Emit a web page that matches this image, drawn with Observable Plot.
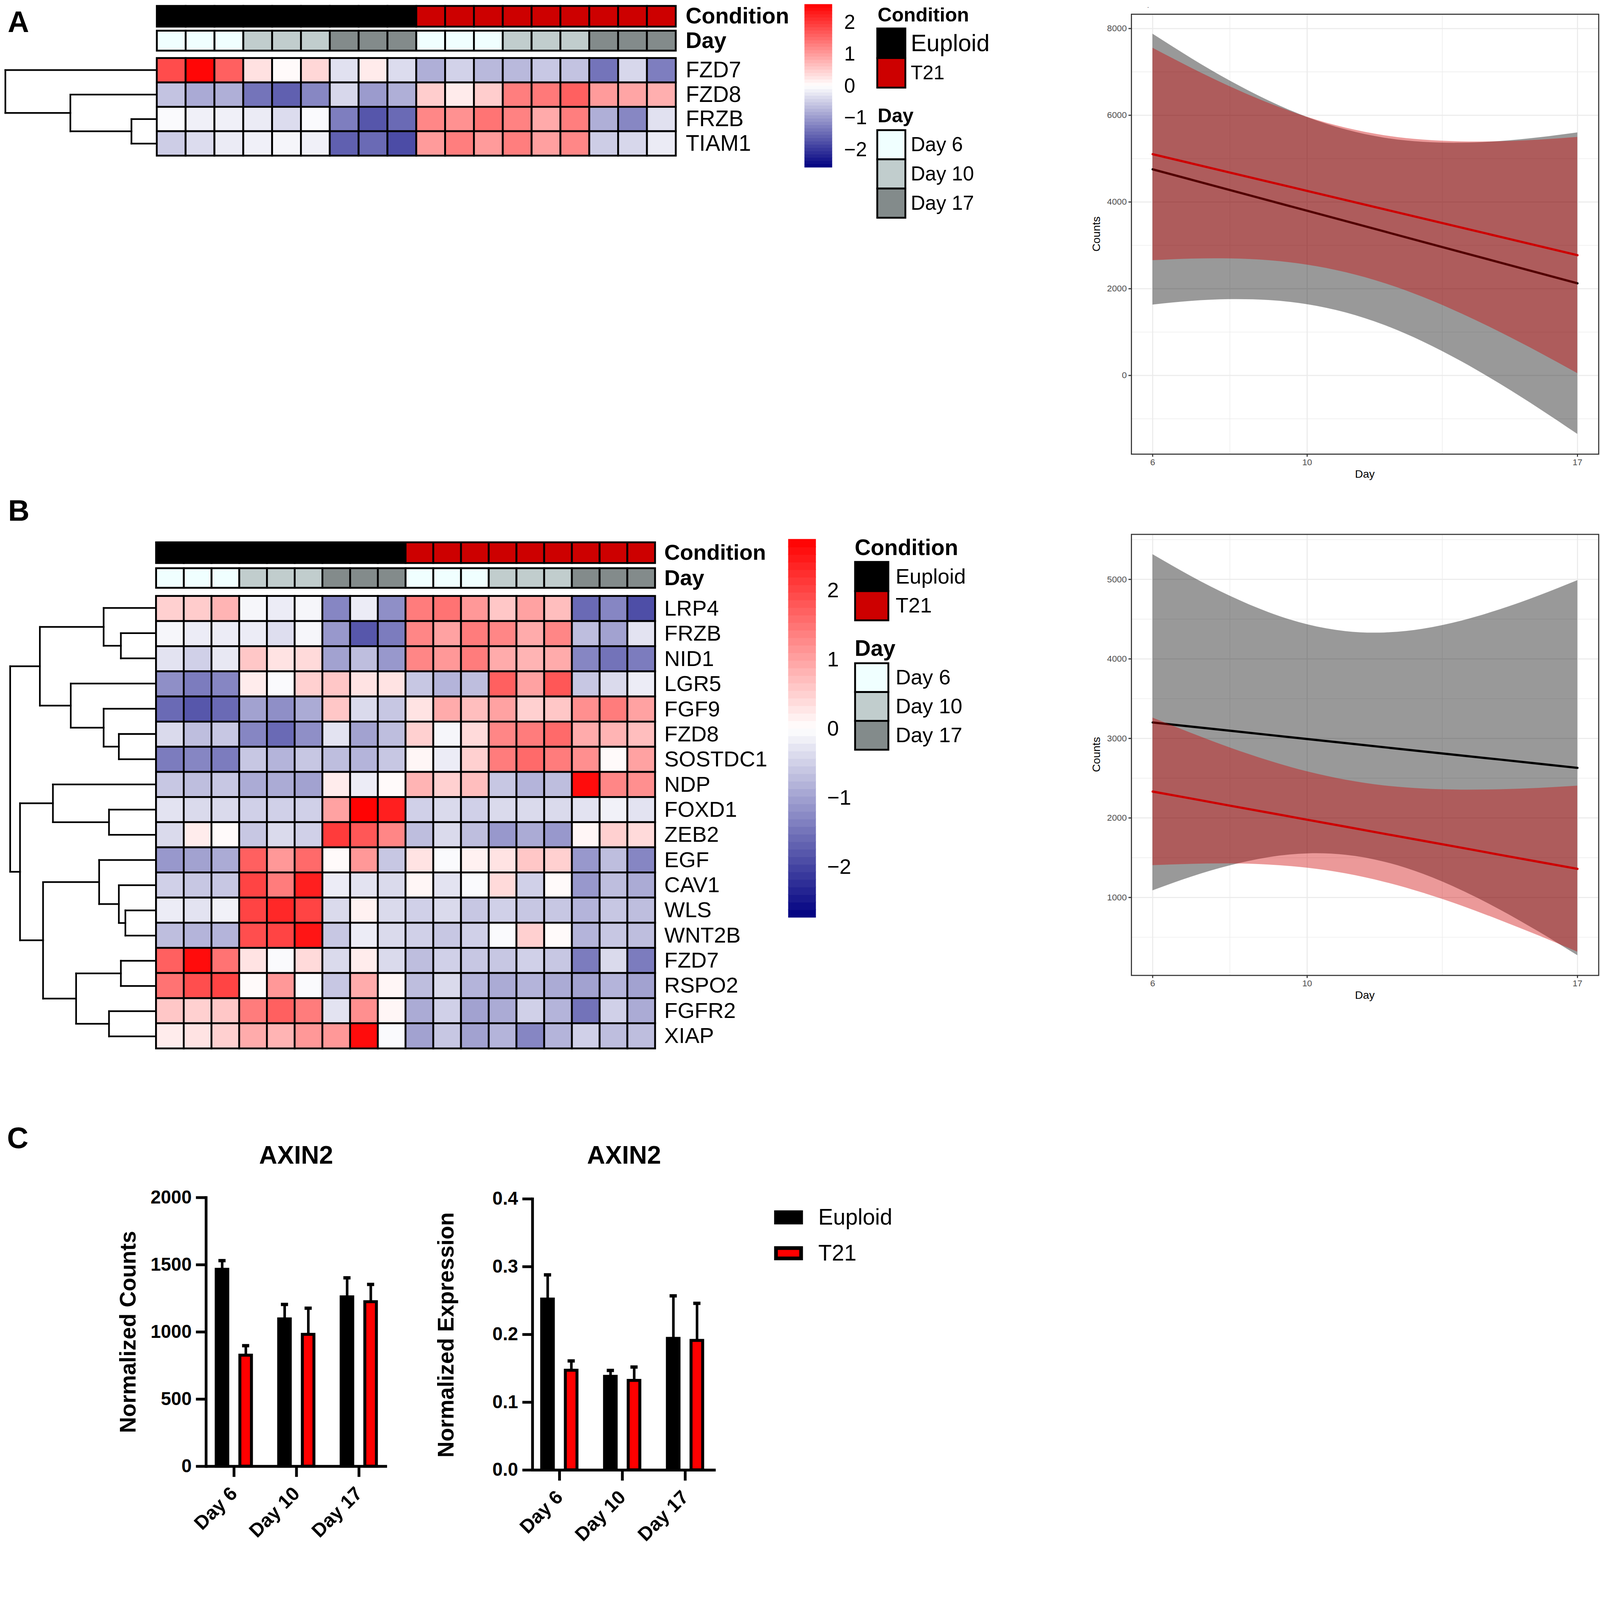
<!DOCTYPE html>
<html><head><meta charset="utf-8">
<script src="https://cdn.jsdelivr.net/npm/d3@7"></script>
<script src="https://cdn.jsdelivr.net/npm/@observablehq/plot@0.6"></script>
<style>
html,body{margin:0;padding:0;background:#fff;overflow:hidden;}
#fig{position:absolute;left:0;top:0;width:4328px;height:4184px;overflow:hidden;background:#fff;transform-origin:0 0;}
</style></head><body><div id="fig"></div>
<script>
// ---------------- DATA ----------------
const samples = ["Eu_D6_1","Eu_D6_2","Eu_D6_3","Eu_D10_1","Eu_D10_2","Eu_D10_3","Eu_D17_1","Eu_D17_2","Eu_D17_3",
                 "T21_D6_1","T21_D6_2","T21_D6_3","T21_D10_1","T21_D10_2","T21_D10_3","T21_D17_1","T21_D17_2","T21_D17_3"];
const sampleCondition = ["Euploid","Euploid","Euploid","Euploid","Euploid","Euploid","Euploid","Euploid","Euploid",
                         "T21","T21","T21","T21","T21","T21","T21","T21","T21"];
const sampleDay = ["Day 6","Day 6","Day 6","Day 10","Day 10","Day 10","Day 17","Day 17","Day 17",
                   "Day 6","Day 6","Day 6","Day 10","Day 10","Day 10","Day 17","Day 17","Day 17"];
const conditions = ["Euploid","T21"];
const days = ["Day 6","Day 10","Day 17"];

// Panel A heatmap (z-scores)
const genesA = ["FZD7","FZD8","FRZB","TIAM1"];
const valuesA = [
  [1.8, 2.5, 1.6, 0.3, 0.05, 0.4, -0.3, 0.2, -0.35, -0.8, -0.45, -0.7, -0.7, -0.55, -0.6, -1.4, -0.4, -1.3],
  [-0.6, -0.85, -0.8, -1.4, -1.6, -1.2, -0.4, -1.0, -0.8, 0.5, 0.2, 0.5, 1.3, 1.35, 1.6, 1.0, 0.9, 0.8],
  [-0.05, -0.15, -0.15, -0.2, -0.35, -0.05, -1.3, -1.7, -1.5, 1.2, 1.1, 1.4, 1.25, 0.85, 1.3, -0.8, -1.2, -0.3],
  [-0.5, -0.35, -0.2, -0.15, -0.1, -0.15, -1.6, -1.5, -1.8, 1.0, 1.3, 1.0, 1.3, 0.95, 1.2, -0.5, -0.4, -0.2]
];
const mergesA = [["FRZB","TIAM1",0.162],["FZD8","#0",0.568],["FZD7","#1",1]];
const legendMaxA = 2.56;

// Panel B heatmap (z-scores)
const genesB = ["LRP4","FRZB","NID1","LGR5","FGF9","FZD8","SOSTDC1","NDP","FOXD1","ZEB2","EGF","CAV1","WLS","WNT2B","FZD7","RSPO2","FGFR2","XIAP"];
const valuesB = [
  [0.5, 0.55, 0.8, -0.1, -0.2, -0.1, -1.3, -0.2, -1.2, 1.4, 1.5, 1.1, 0.6, 1.0, 0.7, -1.6, -1.3, -1.9],
  [-0.1, -0.2, -0.2, -0.2, -0.35, -0.1, -1.1, -1.8, -1.4, 1.3, 1.0, 1.4, 1.3, 0.9, 1.3, -0.7, -1.0, -0.3],
  [-0.3, -0.5, -0.25, 0.6, 0.3, 0.4, -1.0, -0.7, -1.1, 1.3, 1.1, 1.4, 0.9, 0.8, 0.9, -1.3, -1.5, -1.4],
  [-1.2, -1.4, -1.3, 0.2, -0.05, 0.5, 0.6, 0.3, 0.3, -0.6, -0.8, -0.7, 1.7, 1.0, 1.8, -0.6, -0.4, -0.2],
  [-1.6, -1.8, -1.6, -1.0, -1.2, -0.9, 0.6, -0.4, -0.6, 0.3, 0.9, 0.7, 1.0, 0.5, 0.6, 1.2, 1.4, 1.0],
  [-0.4, -0.7, -0.6, -1.3, -1.6, -1.2, -0.3, -1.0, -0.7, 0.5, -0.1, 0.4, 1.3, 1.4, 1.6, 0.9, 0.8, 0.7],
  [-1.4, -1.3, -1.4, -0.6, -0.8, -0.6, -0.7, -0.8, -0.6, 0.1, -0.2, 0.5, 1.4, 1.6, 1.4, 1.2, 0.05, 1.0],
  [-0.6, -0.7, -0.6, -0.9, -0.9, -1.0, 0.2, -0.2, 0.05, 0.8, 0.5, 0.7, -0.6, -0.8, -0.7, 2.6, 1.3, 1.2],
  [-0.3, -0.4, -0.4, -0.5, -0.5, -0.5, 1.0, 2.7, 2.4, -0.5, -0.4, -0.5, -0.4, -0.4, -0.4, -0.3, -0.15, -0.3],
  [-0.4, 0.2, 0.05, -0.6, -0.4, -0.5, 2.1, 1.8, 1.3, -0.7, -0.4, -0.7, -1.1, -0.9, -1.1, 0.1, 0.5, 0.4],
  [-1.1, -1.0, -0.9, 1.7, 1.1, 1.6, 0.05, 1.1, -0.6, 0.3, -0.05, 0.15, 0.3, 0.6, 0.5, -1.1, -0.7, -1.3],
  [-0.5, -0.6, -0.6, 2.0, 1.4, 2.4, -0.2, -0.3, -0.4, 0.1, -0.3, -0.05, 0.4, -0.5, 0.05, -1.1, -0.7, -0.9],
  [-0.2, -0.3, -0.15, 2.0, 2.3, 2.0, -0.4, 0.15, -0.4, -0.5, -0.4, -0.6, -0.5, -0.6, -0.6, -0.8, -0.6, -0.7],
  [-0.7, -0.8, -0.8, 1.9, 2.0, 2.5, -0.6, -0.2, -0.4, -0.5, -0.6, -0.5, -0.05, 0.5, 0.05, -0.8, -0.6, -0.7],
  [1.7, 2.6, 1.5, 0.3, -0.05, 0.4, -0.4, 0.2, -0.4, -0.7, -0.5, -0.6, -0.6, -0.5, -0.6, -1.4, -0.4, -1.4],
  [1.5, 1.9, 2.0, 0.05, 1.1, -0.05, -0.6, 0.9, 0.1, -0.7, -0.4, -0.8, -0.9, -0.8, -0.9, -1.0, -0.8, -1.0],
  [0.6, 0.5, 0.6, 1.4, 1.7, 1.4, -0.3, 1.2, 0.1, -0.9, -0.5, -1.0, -0.9, -0.5, -0.8, -1.5, -0.5, -0.9],
  [0.2, 0.3, 0.5, 0.9, 0.8, 1.1, 1.1, 2.6, -0.05, -1.0, -0.6, -1.0, -0.8, -1.3, -0.8, -0.5, -0.7, -0.7]
];
const mergesB = [
  ["FRZB","NID1",0.236],["LRP4","#0",0.355],["FZD8","SOSTDC1",0.25],["FGF9","#2",0.355],["LGR5","#3",0.582],
  ["#1","#4",0.795],["FOXD1","ZEB2",0.318],["NDP","#6",0.705],["WLS","WNT2B",0.205],["CAV1","#8",0.25],
  ["EGF","#9",0.386],["FZD7","RSPO2",0.236],["FGFR2","XIAP",0.318],["#11","#12",0.545],["#10","#13",0.773],
  ["#7","#14",0.932],["#5","#15",1]
];
const legendMaxB = 2.73;

// Smooth (linear fit + CI) panels, read at each day
const smoothDays = [6,7,8,9,10,11,12,13,14,15,16,17];
const aEuploidFit = [4754,4515,4276,4037,3798,3559,3320,3081,2842,2603,2364,2125];
const aEuploidHi  = [7877,7315,6797,6339,5957,5669,5479,5383,5363,5403,5487,5601];
const aEuploidLo  = [1631,1715,1755,1735,1639,1449,1161,779,321,-197,-759,-1351];
const aT21Fit = [5103,4891,4679,4468,4256,4044,3832,3621,3409,3197,2985,2773];
const aT21Hi  = [7552,7091,6663,6282,5960,5710,5536,5435,5393,5397,5434,5497];
const aT21Lo  = [2654,2691,2695,2654,2552,2378,2128,1807,1425,997,536,49];
const bEuploidFit = [3201,3149,3097,3045,2993,2941,2889,2837,2785,2734,2682,2630];
const bEuploidHi  = [5314,5038,4792,4586,4434,4347,4330,4378,4480,4623,4795,4988];
const bEuploidLo  = [1088,1260,1402,1504,1552,1535,1448,1296,1090,845,569,272];
const bT21Fit = [2332,2244,2155,2067,1978,1890,1801,1713,1625,1536,1448,1360];
const bT21Hi  = [3260,3067,2884,2722,2584,2479,2407,2368,2354,2359,2376,2404];
const bT21Lo  = [1404,1421,1426,1412,1372,1301,1195,1058,896,713,520,316];
const smoothXTicks = [6,10,17];
const smoothXMinor = [8,13.5];
const aYTicks = [0,2000,4000,6000,8000];
const aYMinor = [-1000,1000,3000,5000,7000];
const bYTicks = [1000,2000,3000,4000,5000];
const bYMinor = [500,1500,2500,3500,4500,5500];

// Panel C bars (mean, SEM)
const barDays = ["Day 6","Day 10","Day 17"];
const countsEuploid = [1465,1096,1260];
const countsEuploidSem = [66,109,143];
const countsT21 = [826,981,1224];
const countsT21Sem = [72,196,130];
const exprEuploid = [0.252,0.138,0.194];
const exprEuploidSem = [0.036,0.009,0.063];
const exprT21 = [0.147,0.132,0.191];
const exprT21Sem = [0.014,0.020,0.055];
const countsTicks = [0,500,1000,1500,2000];
const exprTicks = [0,0.1,0.2,0.3,0.4];

// ---------------- HELPERS ----------------
const FONT = "'Liberation Sans', Arial, Helvetica, sans-serif";
const fig = document.getElementById("fig");
function fitFigure() {
  const s = Math.min(document.documentElement.clientWidth / 4328, document.documentElement.clientHeight / 4184);
  fig.style.transform = "scale(" + s + ")";
}
fitFigure();
window.addEventListener("resize", fitFigure);
const plotStyle = {background: "transparent", overflow: "visible", fontFamily: FONT, color: "#000"};
function place(node, left, top) {
  node.style.position = "absolute";
  node.style.left = left + "px";
  node.style.top = top + "px";
  node.style.maxWidth = "none";
  fig.appendChild(node);
}
const heatColor = m => ({type: "linear", domain: [-m, 0, m], range: ["#000080", "#FFFFFF", "#FF0000"]});
const condColor = {type: "ordinal", domain: conditions, range: ["#000000", "#CD0000"]};
const dayColor = {type: "ordinal", domain: days, range: ["#F0FFFF", "#C1CDCD", "#838B8B"]};

function gridPlot({rows, cells, color, cellW, cellH, fontSize, gap, bold}) {
  const W = cellW * samples.length, H = cellH * rows.length;
  return Plot.plot({
    width: W + 508, height: H + 8,
    marginLeft: 4, marginRight: 504, marginTop: 4, marginBottom: 4,
    x: {domain: samples, padding: 0, axis: null},
    y: {domain: rows, padding: 0},
    color, style: plotStyle,
    marks: [
      Plot.cell(cells, {x: "sample", y: "row", fill: "value", stroke: "#000", strokeWidth: 5}),
      Plot.axisY({anchor: "right", tickSize: 0, tickPadding: gap, fontSize, fontWeight: bold ? "bold" : "normal", label: null, textStroke: "none"})
    ]
  });
}
function heatmap({genes, values, m, left, top, condTop, condH, dayTop, dayH, cellW, cellH, fontSize, gap}) {
  const cells = genes.flatMap((g, i) => samples.map((s, j) => ({row: g, sample: s, value: values[i][j]})));
  place(gridPlot({rows: genes, cells, color: heatColor(m), cellW, cellH, fontSize, gap}), left - 4, top - 4);
  const cc = samples.map((s, j) => ({row: "Condition", sample: s, value: sampleCondition[j]}));
  place(gridPlot({rows: ["Condition"], cells: cc, color: condColor, cellW, cellH: condH, fontSize, gap, bold: true}), left - 4, condTop - 4);
  const dc = samples.map((s, j) => ({row: "Day", sample: s, value: sampleDay[j]}));
  place(gridPlot({rows: ["Day"], cells: dc, color: dayColor, cellW, cellH: dayH, fontSize, gap, bold: true}), left - 4, dayTop - 4);
}
function dendrogram({leaves, merges, rootX, leafX, top, cellH}) {
  const pos = new Map(leaves.map((g, i) => [g, {y: i, h: 0}]));
  const segs = [];
  merges.forEach(([a, b, h], k) => {
    const A = pos.get(a), B = pos.get(b);
    segs.push({x1: A.h, y1: A.y, x2: h, y2: A.y});
    segs.push({x1: B.h, y1: B.y, x2: h, y2: B.y});
    segs.push({x1: h, y1: A.y, x2: h, y2: B.y});
    pos.set("#" + k, {y: (A.y + B.y) / 2, h});
  });
  const n = leaves.length;
  const svg = Plot.plot({
    width: leafX - rootX + 8, height: n * cellH + 8,
    marginLeft: 4, marginRight: 4, marginTop: 4, marginBottom: 4,
    x: {domain: [1, 0], axis: null}, y: {domain: [n - 0.5, -0.5], axis: null},
    style: plotStyle,
    marks: [Plot.link(segs, {x1: "x1", y1: "y1", x2: "x2", y2: "y2", stroke: "#000", strokeWidth: 4.5, strokeLinecap: "square"})]
  });
  place(svg, rootX - 4, top - 4);
}
function colorbar({m, left, top, w, h, fontSize, gap}) {
  const N = 50;
  const bands = d3.range(N).map(i => ({lo: -m + 2 * m * i / N, hi: -m + 2 * m * (i + 1) / N}));
  const svg = Plot.plot({
    width: w + 300, height: h, marginLeft: 0, marginRight: 300, marginTop: 0, marginBottom: 0,
    x: {domain: [0, 1], axis: null}, y: {domain: [-m, m]},
    color: heatColor(m), style: plotStyle,
    marks: [
      Plot.rect(bands, {x1: () => 0, x2: () => 1, y1: "lo", y2: d => d.hi + m * 0.004, fill: d => (d.lo + d.hi) / 2}),
      Plot.axisY({anchor: "right", ticks: [-2, -1, 0, 1, 2], tickFormat: d3.format("d"), tickSize: 0, tickPadding: gap, fontSize, label: null, textStroke: "none"})
    ]
  });
  place(svg, left, top);
}
function annLegend({keys, range, left, top, swW, swH, fontSizes, gap, sw}) {
  const svg = Plot.plot({
    width: swW + 508, height: swH * keys.length + 8,
    marginLeft: 4, marginRight: 504, marginTop: 4, marginBottom: 4,
    x: {type: "band", domain: ["k"], padding: 0, axis: null},
    y: {type: "band", domain: keys, padding: 0, axis: null},
    color: {type: "ordinal", domain: keys, range}, style: plotStyle,
    marks: [
      Plot.cell(keys, {x: () => "k", y: d => d, fill: d => d, stroke: "#000", strokeWidth: sw || 5}),
      Plot.text(keys, {x: () => "k", y: d => d, text: d => d, textAnchor: "start", dx: swW / 2 + gap, fontSize: d => fontSizes[keys.indexOf(d)], fill: "#000"})
    ]
  });
  place(svg, left - 4, top - 4);
}
function smoothPlot({top, mT, mB, yDomain, yTicks, yMinor, euploid, t21}) {
  const rows = (fit, lo, hi) => smoothDays.map((d, i) => ({day: d, fit: fit[i], lo: lo[i], hi: hi[i]}));
  const E = rows(...euploid), T = rows(...t21);
  const gridMinor = {stroke: "#EBEBEB", strokeOpacity: 1, strokeWidth: 1.5};
  const gridMajor = {stroke: "#EBEBEB", strokeOpacity: 1, strokeWidth: 2.9};
  const svg = Plot.plot({
    width: 1408, height: 1320, marginLeft: 140, marginRight: 4, marginTop: mT, marginBottom: mB,
    x: {domain: [5.45, 17.55]}, y: {domain: yDomain},
    style: plotStyle,
    marks: [
      Plot.gridX(smoothXMinor, gridMinor),
      Plot.gridY(yMinor, gridMinor),
      Plot.gridX(smoothXTicks, gridMajor),
      Plot.gridY(yTicks, gridMajor),
      Plot.areaY(E, {x: "day", y1: "lo", y2: "hi", fill: "#000000", fillOpacity: 0.4, curve: "natural"}),
      Plot.line(E, {x: "day", y: "fit", stroke: "#000000", strokeWidth: 6}),
      Plot.areaY(T, {x: "day", y1: "lo", y2: "hi", fill: "#CD0000", fillOpacity: 0.4, curve: "natural"}),
      Plot.line(T, {x: "day", y: "fit", stroke: "#CD0000", strokeWidth: 6}),
      Plot.frame({stroke: "#333333", strokeWidth: 2.9}),
      Plot.axisX({ticks: smoothXTicks, tickSize: 7.5, tickPadding: 5, fontSize: 24, color: "#4D4D4D", stroke: "#333333", strokeWidth: 2.9, label: null, tickFormat: d => String(d), textStroke: "none"}),
      Plot.axisY({ticks: yTicks, tickSize: 7.5, tickPadding: 5, fontSize: 24, color: "#4D4D4D", stroke: "#333333", strokeWidth: 2.9, label: null, tickFormat: d => String(d), textStroke: "none"})
    ]
  });
  place(svg, 2920, top);
}
function barPlot({left, width, mL, mR, mT, mB, xRange, yDomain, yTicks, fmt, eMean, eSem, tMean, tSem}) {
  const E = barDays.map((d, i) => ({day: d, cond: "Euploid", v: eMean[i], top: eMean[i] + eSem[i]}));
  const T = barDays.map((d, i) => ({day: d, cond: "T21", v: tMean[i], top: tMean[i] + tSem[i]}));
  const h = (xRange[1] - xRange[0]) / barDays.length / 2;
  const svg = Plot.plot({
    width, height: 1034, marginLeft: mL, marginRight: mR, marginTop: mT, marginBottom: mB,
    x: {type: "band", domain: barDays, range: xRange, padding: 0},
    y: {domain: yDomain},
    color: {type: "ordinal", domain: conditions, range: ["#000000", "#FF0000"]},
    style: {...plotStyle, fontWeight: "bold"},
    marks: [
      Plot.barY(E, {x: "day", y: "v", fill: "cond", stroke: "#000", strokeWidth: 8, insetLeft: h - 48, insetRight: h + 16}),
      Plot.barY(T, {x: "day", y: "v", fill: "cond", stroke: "#000", strokeWidth: 8, insetLeft: h + 16, insetRight: h - 48}),
      Plot.ruleX(E, {x: "day", y1: "v", y2: "top", dx: -32, strokeWidth: 7}),
      Plot.ruleX(T, {x: "day", y1: "v", y2: "top", dx: 32, strokeWidth: 7}),
      Plot.tickY(E, {x: "day", y: "top", insetLeft: h - 42, insetRight: h + 22, strokeWidth: 9}),
      Plot.tickY(T, {x: "day", y: "top", insetLeft: h + 22, insetRight: h - 42, strokeWidth: 9}),
      Plot.ruleY([0], {strokeWidth: 7.5}),
      Plot.frame({anchor: "left", strokeWidth: 7.5}),
      Plot.axisY({ticks: yTicks, tickSize: 27, tickPadding: 12, strokeWidth: 7.5, fontSize: 50, fontWeight: "bold", label: null, tickFormat: fmt, textStroke: "none"}),
      Plot.axisX({tickSize: 29, strokeWidth: 7.5, tickPadding: 36, tickRotate: -45, fontSize: 52, fontWeight: "bold", label: null, textStroke: "none"})
    ]
  });
  place(svg, left, 3150);
}

// ---------------- PANEL A ----------------
heatmap({genes: genesA, values: valuesA, m: legendMaxA, left: 421, top: 156, condTop: 16, condH: 56, dayTop: 83, dayH: 54,
         cellW: 78.3, cellH: 66.25, fontSize: 60, gap: 24});
dendrogram({leaves: genesA, merges: mergesA, rootX: 14, leafX: 421, top: 156, cellH: 66.25});
colorbar({m: legendMaxA, left: 2176, top: 12, w: 75, h: 441, fontSize: 54, gap: 32});
annLegend({keys: conditions, range: ["#000000", "#CD0000"], left: 2373, top: 77, swW: 76, swH: 80, fontSizes: [64, 53], gap: 14});
annLegend({keys: days, range: ["#F0FFFF", "#C1CDCD", "#838B8B"], left: 2373, top: 352, swW: 76, swH: 79.3, fontSizes: [54, 54, 54], gap: 14});
smoothPlot({top: 0, mT: 38, mB: 92, yDomain: [-1815, 8330], yTicks: aYTicks, yMinor: aYMinor,
            euploid: [aEuploidFit, aEuploidLo, aEuploidHi], t21: [aT21Fit, aT21Lo, aT21Hi]});

// ---------------- PANEL B ----------------
heatmap({genes: genesB, values: valuesB, m: legendMaxB, left: 419, top: 1610, condTop: 1467, condH: 56, dayTop: 1537, dayH: 53,
         cellW: 75.3, cellH: 68.17, fontSize: 59, gap: 22});
dendrogram({leaves: genesB, merges: mergesB, rootX: 27, leafX: 419, top: 1610, cellH: 68.17});
colorbar({m: legendMaxB, left: 2132, top: 1460, w: 75, h: 1022, fontSize: 57, gap: 30});
annLegend({keys: conditions, range: ["#000000", "#CD0000"], left: 2313, top: 1519, swW: 90, swH: 79.5, fontSizes: [57, 57], gap: 19});
annLegend({keys: days, range: ["#F0FFFF", "#C1CDCD", "#838B8B"], left: 2313, top: 1794, swW: 90, swH: 78, fontSizes: [57, 57, 57], gap: 19});
smoothPlot({top: 1400, mT: 45, mB: 82, yDomain: [20, 5566], yTicks: bYTicks, yMinor: bYMinor,
            euploid: [bEuploidFit, bEuploidLo, bEuploidHi], t21: [bT21Fit, bT21Lo, bT21Hi]});

// ---------------- PANEL C ----------------
barPlot({left: 0, width: 1100, mL: 557, mR: 53, mT: 89, mB: 218, xRange: [547, 1056], yDomain: [0, 2000], yTicks: countsTicks,
         fmt: d => String(d), eMean: countsEuploid, eSem: countsEuploidSem, tMean: countsT21, tSem: countsT21Sem});
barPlot({left: 1100, width: 1000, mL: 340, mR: 164, mT: 92.6, mB: 208, xRange: [326.75, 838.25], yDomain: [0, 0.4], yTicks: exprTicks,
         fmt: d3.format(".1f"), eMean: exprEuploid, eSem: exprEuploidSem, tMean: exprT21, tSem: exprT21Sem});
{
  const svg = Plot.plot({
    width: 600, height: 160, marginLeft: 4, marginRight: 518, marginTop: 24, marginBottom: 1,
    x: {type: "band", domain: ["k"], padding: 0, axis: null},
    y: {type: "band", domain: conditions, paddingInner: 0.61, paddingOuter: 0, axis: null},
    color: {type: "ordinal", domain: conditions, range: ["#000000", "#FF0000"]},
    style: plotStyle,
    marks: [
      Plot.cell(conditions, {x: () => "k", y: d => d, fill: d => d, stroke: "#000", strokeWidth: 10, inset: 5}),
      Plot.text(conditions, {x: () => "k", y: d => d, text: d => d, textAnchor: "start", dx: 80, fontSize: 60, fill: "#000"})
    ]
  });
  place(svg, 2090, 3250);
}

// ---------------- FREE TEXT ----------------
const texts = [
  {t: "A", x: 21, y: 87, s: 80, w: "bold"},
  {t: "B", x: 22, y: 1408, s: 80, w: "bold"},
  {t: "C", x: 19, y: 3105, s: 80, w: "bold"},
  {t: "Condition", x: 2374, y: 58, s: 53, w: "bold"},
  {t: "Day", x: 2374, y: 331, s: 53, w: "bold"},
  {t: "Condition", x: 2312, y: 1501, s: 60, w: "bold"},
  {t: "Day", x: 2312, y: 1774, s: 60, w: "bold"},
  {t: "Counts", x: 2975, y: 633, s: 30, a: "middle", r: -90},
  {t: "Day", x: 3692, y: 1292, s: 30, a: "middle"},
  {t: ".", x: 3103, y: 21, s: 18, c: "#4D4D4D"},
  {t: "Counts", x: 2975, y: 2041, s: 30, a: "middle", r: -90},
  {t: "Day", x: 3692, y: 2702, s: 30, a: "middle"},
  {t: "AXIN2", x: 801, y: 3148, s: 68, w: "bold", a: "middle"},
  {t: "AXIN2", x: 1688, y: 3148, s: 68, w: "bold", a: "middle"},
  {t: "Normalized Counts", x: 367, y: 3603, s: 60, w: "bold", a: "middle", r: -90},
  {t: "Normalized Expression", x: 1227, y: 3611, s: 60, w: "bold", a: "middle", r: -90}
];
const ov = d3.create("svg").attr("width", 4328).attr("height", 4184)
  .attr("style", "position:absolute;left:0;top:0;overflow:visible;font-family:" + FONT);
for (const t of texts) {
  ov.append("text").attr("x", t.x).attr("y", t.y).attr("font-size", t.s)
    .attr("font-weight", t.w || "normal").attr("text-anchor", t.a || "start").attr("fill", t.c || "#000")
    .attr("transform", t.r ? `rotate(${t.r},${t.x},${t.y})` : null).text(t.t);
}
fig.appendChild(ov.node());
</script></body></html>
